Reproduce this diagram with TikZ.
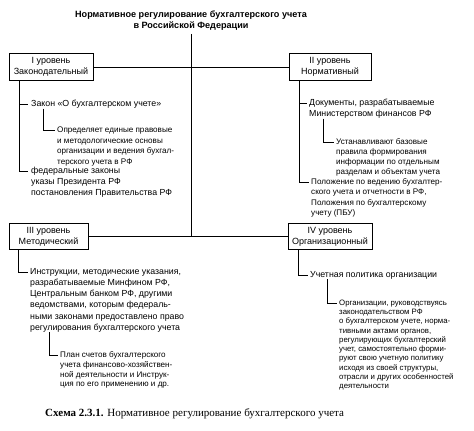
\documentclass[tikz,border=0pt]{standalone}
\usepackage{fontspec}
\setmainfont{Liberation Sans}
\newfontfamily\capfont{Liberation Serif}
\begin{document}
\begin{tikzpicture}[x=1pt,y=-1pt,
  lvl/.style={draw, line width=0.9pt, inner sep=1pt, align=center, font=\fontsize{9}{11}\selectfont},
  maintxt/.style={anchor=north west, inner sep=0pt, align=left, font=\fontsize{8.8}{11}\selectfont},
  notetxt/.style={anchor=north west, inner sep=0pt, align=left, font=\fontsize{8.1}{10}\selectfont},
  conn/.style={line width=0.75pt}]
\useasboundingbox[fill=white] (0,0) rectangle (474,431);

\node[align=center, inner sep=0pt, font=\fontsize{9.1}{11}\selectfont\bfseries] (title) at (191,21)
  {Нормативное регулирование бухгалтерского учета\\в Российской Федерации};

\node[lvl, minimum width=84pt, minimum height=27pt] (b1) at (51,67) {I уровень\\Законодательный};
\node[lvl, minimum width=82pt, minimum height=27pt] (b2) at (330,67) {II уровень\\Нормативный};
\node[lvl, minimum width=79pt, minimum height=26pt] (b3) at (48.5,236.5) {III уровень\\Методический};
\node[lvl, minimum width=84pt, minimum height=26pt] (b4) at (330,236.5) {IV уровень\\Организационный};

% texts level I
\node[maintxt] (t1a) at (31,100) {Закон «О бухгалтерском учете»};
\node[notetxt, font=\fontsize{8.1}{10.7}\selectfont] (t1b) at (57,126.5) {Определяет единые правовые\\и методологические основы\\организации и ведения бухгал-\\терского учета в РФ};
\node[maintxt] (t1c) at (31,167) {федеральные законы\\указы Президента РФ\\постановления Правительства РФ};

% texts level II
\node[maintxt] (t2a) at (309,99) {Документы, разрабатываемые\\Министерством финансов РФ};
\node[notetxt] (t2b) at (336,138.5) {Устанавливают базовые\\правила формирования\\информации по отдельным\\разделам и объектам учета};
\node[notetxt, font=\fontsize{8.1}{10.3}\selectfont] (t2c) at (311,178.5) {Положение по ведению бухгалтер-\\ского учета и отчетности в РФ,\\Положения по бухгалтерскому\\учету (ПБУ)};

% texts level III
\node[maintxt, font=\fontsize{8.8}{11.2}\selectfont] (t3a) at (30,268) {Инструкции, методические указания,\\разрабатываемые Минфином РФ,\\Центральным банком РФ, другими\\ведомствами, которым федераль-\\ными законами предоставлено право\\регулирования бухгалтерского учета};
\node[notetxt, font=\fontsize{8.1}{9.7}\selectfont] (t3b) at (60,351.5) {План счетов бухгалтерского\\учета финансово-хозяйствен-\\ной деятельности и Инструк-\\ция по его применению и др.};

% texts level IV
\node[maintxt] (t4a) at (310,271) {Учетная политика организации};
\node[notetxt, font=\fontsize{7.8}{9.3}\selectfont] (t4b) at (339,299.5) {Организации, руководствуясь\\законодательством РФ\\о бухгалтерском учете, норма-\\тивными актами органов,\\регулирующих бухгалтерский\\учет, самостоятельно форми-\\руют свою учетную политику\\исходя из своей структуры,\\отрасли и других особенностей\\деятельности};

% caption
\node[anchor=west, inner sep=0pt, font=\capfont\fontsize{11}{13}\selectfont] (cap) at (45,414)
  {\textbf{Схема 2.3.1.} Нормативное регулирование бухгалтерского учета};

% main connectors
\draw[conn] (b1.east) -- (b2.west);
\draw[conn] (b3.east) -- (b4.west);
\coordinate (vtop) at ([yshift=-3pt]title.south);
\draw[conn] (vtop) -- (vtop |- b3.east);

% branch end points
\coordinate (t1aL) at ([xshift=-3pt,yshift=-4pt]t1a.north west);
\coordinate (t1bL) at ([xshift=-2pt,yshift=-3.7pt]t1b.north west);
\coordinate (t1cL) at ([xshift=-3pt,yshift=-4pt]t1c.north west);
\coordinate (t2aL) at ([xshift=-2pt,yshift=-4pt]t2a.north west);
\coordinate (t2bL) at ([xshift=-2pt,yshift=-3.7pt]t2b.north west);
\coordinate (t2cL) at ([xshift=-2pt,yshift=-3.7pt]t2c.north west);
\coordinate (t3aL) at ([xshift=-2pt,yshift=-4pt]t3a.north west);
\coordinate (t3bL) at ([xshift=-2pt,yshift=-3.7pt]t3b.north west);
\coordinate (t4aL) at ([xshift=-2pt,yshift=-4pt]t4a.north west);
\coordinate (t4bL) at ([xshift=-2pt,yshift=-3.6pt]t4b.north west);

% trunks
\coordinate (tr1) at ([xshift=11pt]b1.south west);
\coordinate (tr2) at ([xshift=11pt]b2.south west);
\coordinate (tr3) at ([xshift=10pt]b3.south west);
\coordinate (tr4) at ([xshift=11pt]b4.south west);

\draw[conn] (tr1) |- (t1cL);
\draw[conn] (tr1 |- t1aL) -- (t1aL);
\draw[conn] ([xshift=12pt]t1a.south west) |- (t1bL);

\draw[conn] (tr2) |- (t2cL);
\draw[conn] (tr2 |- t2aL) -- (t2aL);
\draw[conn] ([xshift=14pt]t2a.south west) |- (t2bL);

\draw[conn] (tr3) |- (t3aL);
\draw[conn] ([xshift=19pt]t3a.south west) |- (t3bL);

\draw[conn] (tr4) |- (t4aL);
\draw[conn] ([xshift=17pt]t4a.south west) |- (t4bL);
\end{tikzpicture}
\end{document}
